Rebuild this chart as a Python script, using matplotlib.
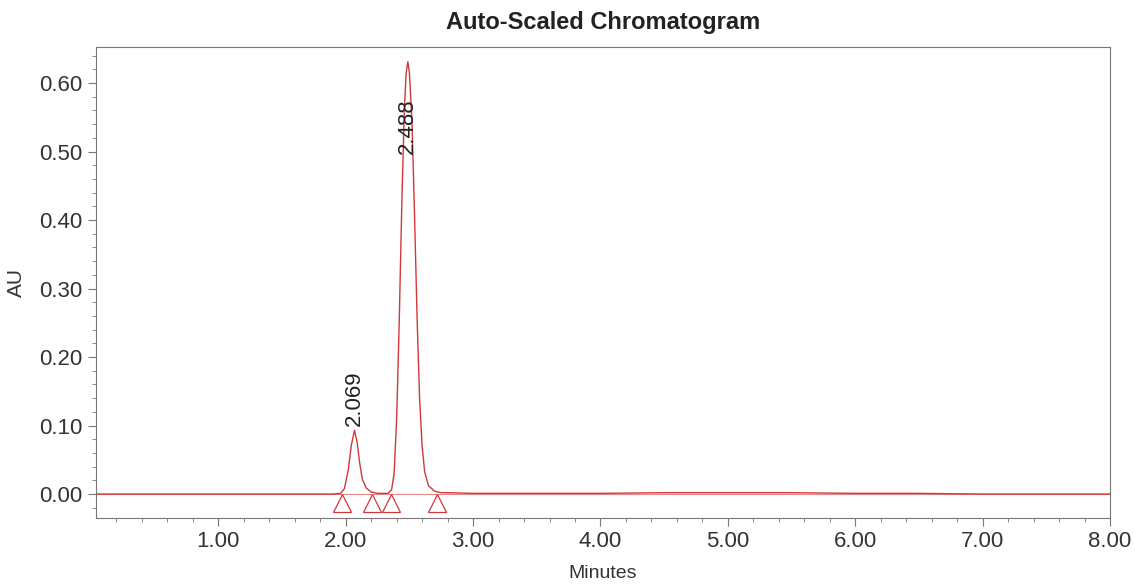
import matplotlib
matplotlib.use("Agg")
import matplotlib.pyplot as plt
from matplotlib.ticker import MultipleLocator, FormatStrFormatter

plt.rcParams['font.family'] = ['Liberation Sans', 'DejaVu Sans']

# trace (minutes, AU)
minutes = [0.04, 0.5, 1.0, 1.5, 1.90, 1.96, 1.99, 2.02, 2.045, 2.069, 2.09, 2.11, 2.13,
           2.16, 2.20, 2.25, 2.30, 2.33, 2.36, 2.38, 2.40, 2.42, 2.44, 2.46, 2.475,
           2.488, 2.50, 2.52, 2.54, 2.56, 2.58, 2.60, 2.62, 2.65, 2.70, 2.75, 2.80,
           3.0, 3.5, 4.0, 4.5, 5.0, 5.5, 6.0, 6.5, 7.0, 7.5, 8.0]
au = [0.000, 0.000, 0.000, 0.000, 0.000, 0.001, 0.008, 0.035, 0.072, 0.093, 0.075,
      0.045, 0.022, 0.009, 0.003, 0.001, 0.001, 0.001, 0.006, 0.030, 0.110, 0.250,
      0.420, 0.560, 0.615, 0.631, 0.615, 0.545, 0.410, 0.260, 0.140, 0.070, 0.032,
      0.012, 0.004, 0.002, 0.002, 0.001, 0.001, 0.001, 0.002, 0.002, 0.002, 0.001,
      0.001, 0.000, 0.000, 0.000]

# integration start/end markers
marks = [1.974, 2.209, 2.353, 2.72]

# peak labels
peak_rt = [2.069, 2.488]
peak_lbl = ["2.069", "2.488"]
lbl_y = [0.100, 0.496]

red = "#d0393b"
fig = plt.figure(figsize=(11.35, 5.87), dpi=100)
ax = fig.add_axes([0.0846, 0.1175, 0.8934, 0.8025])

ax.plot(minutes, au, color=red, lw=1.0)
ax.axhline(0, color=red, lw=0.8, alpha=0.6)
ax.plot(marks, [-0.013] * len(marks), linestyle="none", marker="^", ms=13,
        mfc="none", mec=red, mew=0.9)

for rt, t, yy in zip(peak_rt, peak_lbl, lbl_y):
    ax.text(rt, yy, t, rotation=90, ha="center", va="bottom", fontsize=16, color="#222222")

ax.set_xlim(0.04, 8.0)
ax.set_ylim(-0.035, 0.6526)
ax.xaxis.set_major_locator(MultipleLocator(1.0))
ax.xaxis.set_minor_locator(MultipleLocator(0.2))
ax.yaxis.set_major_locator(MultipleLocator(0.1))
ax.yaxis.set_minor_locator(MultipleLocator(0.02))
ax.xaxis.set_major_formatter(FormatStrFormatter("%.2f"))
ax.yaxis.set_major_formatter(FormatStrFormatter("%.2f"))
ax.tick_params(which="major", length=6, color="#777777", labelsize=16, labelcolor="#333333")
ax.tick_params(which="minor", length=3, color="#777777")
for s in ax.spines.values():
    s.set_color("#777777")

ax.set_xlabel("Minutes", fontsize=14, color="#333333", labelpad=9)
ax.set_ylabel("AU", fontsize=15, color="#333333", labelpad=10)
ax.set_title("Auto-Scaled Chromatogram", fontsize=17, fontweight="bold", color="#222222", pad=13)

fig.savefig("out.png", dpi=100)
